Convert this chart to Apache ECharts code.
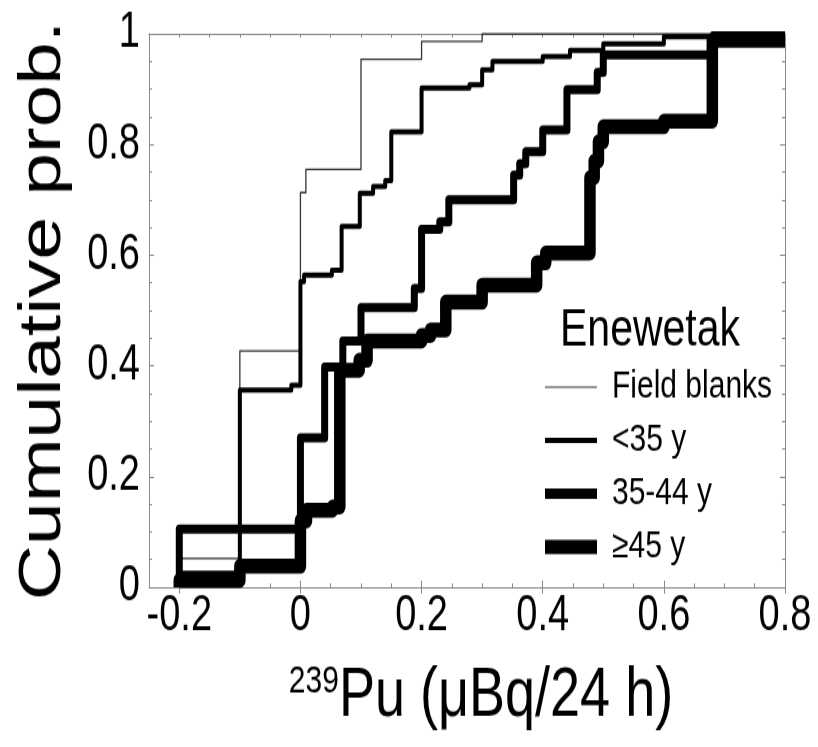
<!DOCTYPE html>
<html>
<head>
<meta charset="utf-8">
<script src="https://cdn.jsdelivr.net/npm/echarts@6/dist/echarts.min.js"></script>
<style>
  html, body { margin: 0; padding: 0; background: #fff; }
  #wrap { width: 818px; height: 747px; overflow: hidden; background: #fff; }
  /* the figure is drawn in a shorter box and stretched to full height */
  #chart { width: 818px; height: 575px; transform: scaleY(1.29913); transform-origin: 0 0; }
</style>
</head>
<body>
<div id="wrap"><div id="chart"></div></div>
<script>
// Empirical cumulative distributions: x = step position, p = cumulative probability after the step
const fieldBlankX = [-0.2, -0.1, 0, 0.009, 0.1, 0.2, 0.3];
const fieldBlankP = [0.052, 0.427, 0.713, 0.755, 0.954, 0.986, 1.0];

const under35X = [-0.2, -0.1, -0.015, 0, 0.006, 0.052, 0.068, 0.098, 0.12, 0.14, 0.15, 0.2, 0.279, 0.3, 0.317, 0.4, 0.445, 0.5, 0.6, 0.68];
const under35P = [0.025, 0.356, 0.365, 0.552, 0.564, 0.573, 0.652, 0.712, 0.724, 0.735, 0.823, 0.902, 0.908, 0.935, 0.95, 0.959, 0.97, 0.982, 0.995, 1.0];

const age3544X = [-0.2, 0, 0.04, 0.07, 0.1, 0.188, 0.2, 0.23, 0.245, 0.352, 0.362, 0.372, 0.4, 0.44, 0.49, 0.5, 0.68];
const age3544P = [0.105, 0.27, 0.398, 0.445, 0.505, 0.54, 0.647, 0.66, 0.70, 0.745, 0.765, 0.787, 0.826, 0.899, 0.93, 0.962, 0.99];

const over45X = [-0.2, -0.1, 0, 0.01, 0.053, 0.065, 0.097, 0.11, 0.2, 0.215, 0.24, 0.3, 0.39, 0.405, 0.478, 0.485, 0.492, 0.5, 0.6, 0.68];
const over45P = [0.0125, 0.038, 0.12, 0.139, 0.145, 0.392, 0.41, 0.445, 0.455, 0.465, 0.515, 0.546, 0.586, 0.604, 0.74, 0.77, 0.805, 0.832, 0.842, 0.988];

const seriesNames = ['Field blanks', '<35 y', '35-44 y', '\u226545 y'];
const legendTitle = 'Enewetak';
const xTitleSup = '239';
const xTitleMain = 'Pu (\u03bcBq/24 h)';
const yTitle = 'Cumulative prob.';
const xMajorTicks = [-0.2, 0, 0.2, 0.4, 0.6, 0.8];

const X_MIN = -0.25, X_MAX = 0.8;
const FONT = 'Liberation Sans, Arial, Helvetica, sans-serif';
const FRAME = '#8a8a8a';

// step curve: start at zero at the first step, run out to the right edge
function cdf(xs, ps) {
  const pts = [[xs[0], 0]];
  xs.forEach((x, i) => pts.push([x, ps[i]]));
  pts.push([X_MAX, ps[ps.length - 1]]);
  return pts;
}

function stepSeries(name, xs, ps, width, color) {
  return {
    name, type: 'line', step: 'end', data: cdf(xs, ps),
    showSymbol: false, symbol: 'none', silent: true, animation: false,
    xAxisIndex: 0, yAxisIndex: 0,
    lineStyle: { color, width, join: 'round', cap: 'butt' },
    itemStyle: { color }
  };
}

const chart = echarts.init(document.getElementById('chart'));

const minorX = (pos) => ({
  type: 'value', position: pos, min: X_MIN, max: X_MAX, interval: 0.05,
  axisLine: { show: true, onZero: false, lineStyle: { color: FRAME, width: 1 } },
  axisTick: { show: true, inside: true, length: 3, lineStyle: { color: FRAME } },
  axisLabel: { show: false }, splitLine: { show: false }
});
const majorX = (pos) => ({
  type: 'value', position: pos, min: X_MIN, max: X_MAX,
  axisLine: { show: false },
  axisTick: { show: true, inside: true, length: 5, customValues: xMajorTicks, lineStyle: { color: FRAME } },
  axisLabel: { show: false }, splitLine: { show: false }
});

const bottomX = minorX('bottom');
bottomX.axisLabel = {
  show: true, fontSize: 38, color: '#000', fontFamily: FONT, margin: 4,
  formatter: (v) => {
    const k = v * 5;
    return Math.abs(k - Math.round(k)) < 1e-6 ? String(Math.round(k) / 5) : '';
  }
};
bottomX.name = '{sup|' + xTitleSup + '}{main|' + xTitleMain + '}';
bottomX.nameLocation = 'middle';
bottomX.nameGap = 54;
bottomX.nameTextStyle = {
  padding: [0, 0, 0, 28],
  rich: {
    sup: { fontSize: 30, fontFamily: FONT, color: '#000', lineHeight: 60, verticalAlign: 'top', padding: [4, 0, 0, 0] },
    main: { fontSize: 54, fontFamily: FONT, color: '#000', lineHeight: 60 }
  }
};

chart.setOption({
  animation: false,
  backgroundColor: '#fff',
  grid: { left: 149, right: 33, top: 26, bottom: 123, containLabel: false },
  title: {
    text: legendTitle, left: 560, top: 234, padding: 0,
    textStyle: { fontSize: 41, fontWeight: 'normal', color: '#000', fontFamily: FONT }
  },
  legend: {
    orient: 'vertical', left: 545, top: 283, padding: 0,
    itemWidth: 52, itemHeight: 28, itemGap: 11, selectedMode: false,
    textStyle: { fontSize: 30, lineHeight: 28, color: '#000', fontFamily: FONT, padding: [0, 0, 0, 10] },
    data: [
      { name: seriesNames[0], icon: 'path://M0,0H52V2H0Z', itemStyle: { color: '#9a9a9a', borderWidth: 0 } },
      { name: seriesNames[1], icon: 'path://M0,0H52V4H0Z', itemStyle: { color: '#000', borderWidth: 0 } },
      { name: seriesNames[2], icon: 'path://M0,0H52V8H0Z', itemStyle: { color: '#000', borderWidth: 0 } },
      { name: seriesNames[3], icon: 'path://M0,0H52V11H0Z', itemStyle: { color: '#000', borderWidth: 0 } }
    ]
  },
  xAxis: [bottomX, majorX('bottom'), minorX('top'), majorX('top')],
  yAxis: [
    {
      type: 'value', position: 'left', min: 0, max: 1, interval: 0.2,
      axisLine: { show: true, onZero: false, lineStyle: { color: FRAME, width: 1 } },
      axisTick: { show: true, inside: true, length: 5, lineStyle: { color: FRAME } },
      minorTick: { show: true, splitNumber: 4, length: 3, lineStyle: { color: FRAME } },
      axisLabel: { fontSize: 38, color: '#000', fontFamily: FONT, margin: 9 },
      splitLine: { show: false }, minorSplitLine: { show: false },
      name: yTitle, nameLocation: 'middle', nameRotate: 90, nameGap: 76,
      nameTextStyle: { fontSize: 59, color: '#000', fontFamily: FONT }
    },
    {
      type: 'value', position: 'right', min: 0, max: 1, interval: 0.2,
      axisLine: { show: true, onZero: false, lineStyle: { color: FRAME, width: 1 } },
      axisTick: { show: true, inside: true, length: 5, lineStyle: { color: FRAME } },
      minorTick: { show: true, splitNumber: 4, length: 3, lineStyle: { color: FRAME } },
      axisLabel: { show: false }, splitLine: { show: false }
    }
  ],
  series: [
    stepSeries(seriesNames[0], fieldBlankX, fieldBlankP, 1.3, '#333'),
    stepSeries(seriesNames[1], under35X, under35P, 4, '#000'),
    stepSeries(seriesNames[2], age3544X, age3544P, 7, '#000'),
    stepSeries(seriesNames[3], over45X, over45P, 11.5, '#000')
  ]
});
</script>
</body>
</html>
